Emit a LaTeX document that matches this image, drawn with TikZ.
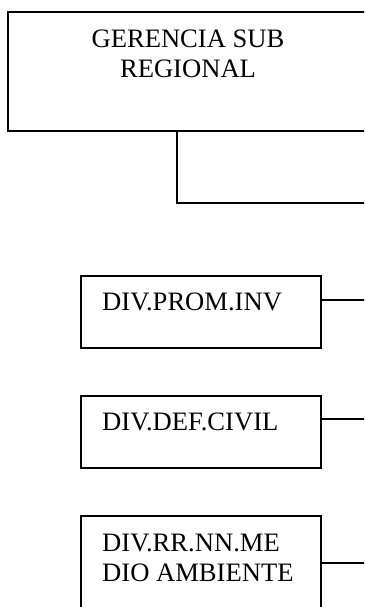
\documentclass[tikz,border=0pt]{standalone}
\usepackage{fontspec}
\setmainfont{Liberation Serif}
\begin{document}
\begin{tikzpicture}[x=1pt,y=1pt,
  unit/.style={draw, line width=2pt, inner sep=0pt, outer sep=0pt, anchor=north west},
  link/.style={line width=2pt},
  lbl/.style={inner sep=0pt, font=\fontsize{26.6}{30}\selectfont}]
\useasboundingbox (0,0) rectangle (364,-607);
\clip (0,0) rectangle (364,-607);

% head office
\node[unit, minimum width=360, minimum height=119] (gsr) at (8,-12) {};
\node[lbl, anchor=base] (gsrt) at (188,-48)
  {\begin{tabular}[t]{@{}c@{}}GERENCIA SUB\\REGIONAL\end{tabular}};
\coordinate (gsrx) at (372,-203);
\draw[link] ([xshift=169pt]gsr.south west) |- (gsrx);

% divisions
\node[unit, minimum width=240, minimum height=72] (prom) at (81,-276) {};
\node[lbl, anchor=base west] (promt) at (102,-310.5) {DIV.PROM.INV};
\coordinate (promx) at (372,-300);
\draw[link] (prom.east |- promx) -- (promx);

\node[unit, minimum width=240, minimum height=72] (defc) at (81,-396) {};
\node[lbl, anchor=base west] (defct) at (102,-430.5) {DIV.DEF.CIVIL};
\coordinate (defcx) at (372,-419);
\draw[link] (defc.east |- defcx) -- (defcx);

\node[unit, minimum width=240, minimum height=130] (rrnn) at (81,-516) {};
\node[lbl, anchor=base west] (rrnnt) at (102,-551.5)
  {\begin{tabular}[t]{@{}l@{}}DIV.RR.NN.ME\\DIO AMBIENTE\end{tabular}};
\coordinate (rrnnx) at (372,-563);
\draw[link] (rrnn.east |- rrnnx) -- (rrnnx);
\end{tikzpicture}
\end{document}
